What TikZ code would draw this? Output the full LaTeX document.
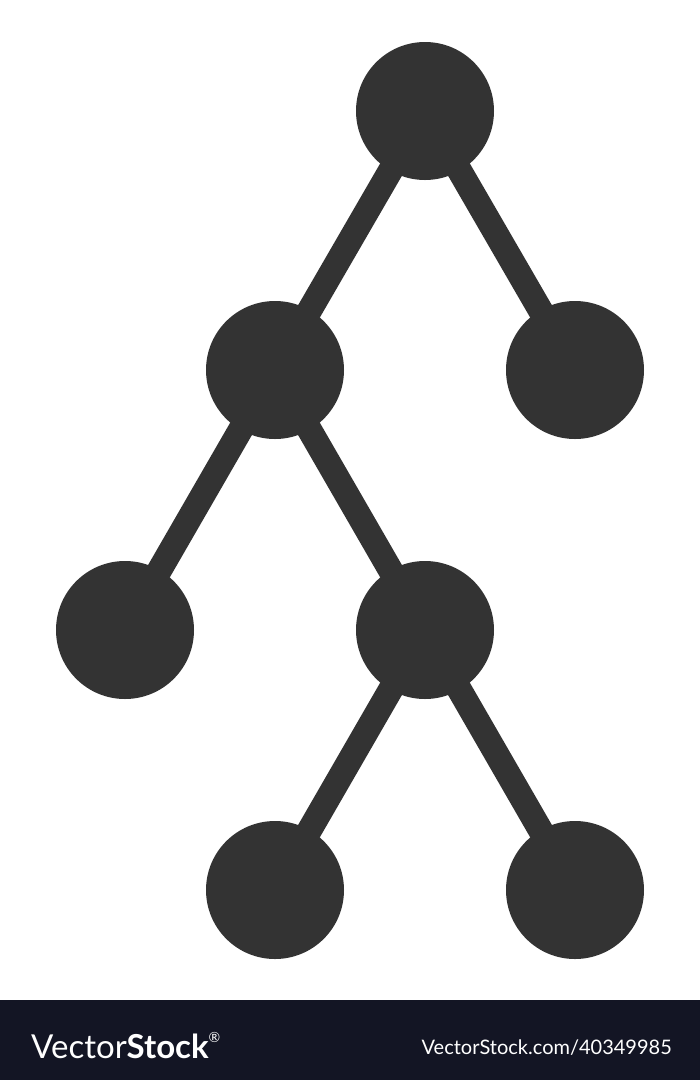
\documentclass[tikz,border=0pt]{standalone}
\usepackage{fontspec}
\newfontfamily\vsfont{Lato}
\begin{document}
\begin{tikzpicture}[x=1pt,y=-1pt,
  dot/.style={circle,fill=icongray,minimum size=138pt,inner sep=0pt},
  edge/.style={draw=icongray,line width=25pt}]
\definecolor{icongray}{HTML}{333333}
\definecolor{barcol}{HTML}{131524}
\useasboundingbox (0,0) rectangle (700,1080);
\fill[white] (0,0) rectangle (700,1080);
\coordinate (ca) at (425,111);
\coordinate (cb) at (275,370);
\coordinate (cc) at (575,370);
\coordinate (cd) at (125,630);
\coordinate (ce) at (425,630);
\coordinate (cf) at (275,890);
\coordinate (cg) at (575,890);
\draw[edge] (ca) -- (cb);
\draw[edge] (ca) -- (cc);
\draw[edge] (cb) -- (cd);
\draw[edge] (cb) -- (ce);
\draw[edge] (ce) -- (cf);
\draw[edge] (ce) -- (cg);
\node[dot] (a) at (ca) {};
\node[dot] (b) at (cb) {};
\node[dot] (c) at (cc) {};
\node[dot] (d) at (cd) {};
\node[dot] (e) at (ce) {};
\node[dot] (f) at (cf) {};
\node[dot] (g) at (cg) {};
\fill[barcol] (0,1000) rectangle (700,1080);
\node[anchor=base west,inner sep=0pt,text=white,font=\vsfont\fontsize{33}{33}\selectfont] (logo) at (31,1058) {Vector\textbf{Stock}\raisebox{0.9ex}{\fontsize{14}{14}\selectfont ®}};
\node[anchor=base east,inner sep=0pt,text=white,font=\vsfont\fontsize{20}{20}\selectfont] (url) at (672,1054) {VectorStock.com/40349985};
\end{tikzpicture}
\end{document}
